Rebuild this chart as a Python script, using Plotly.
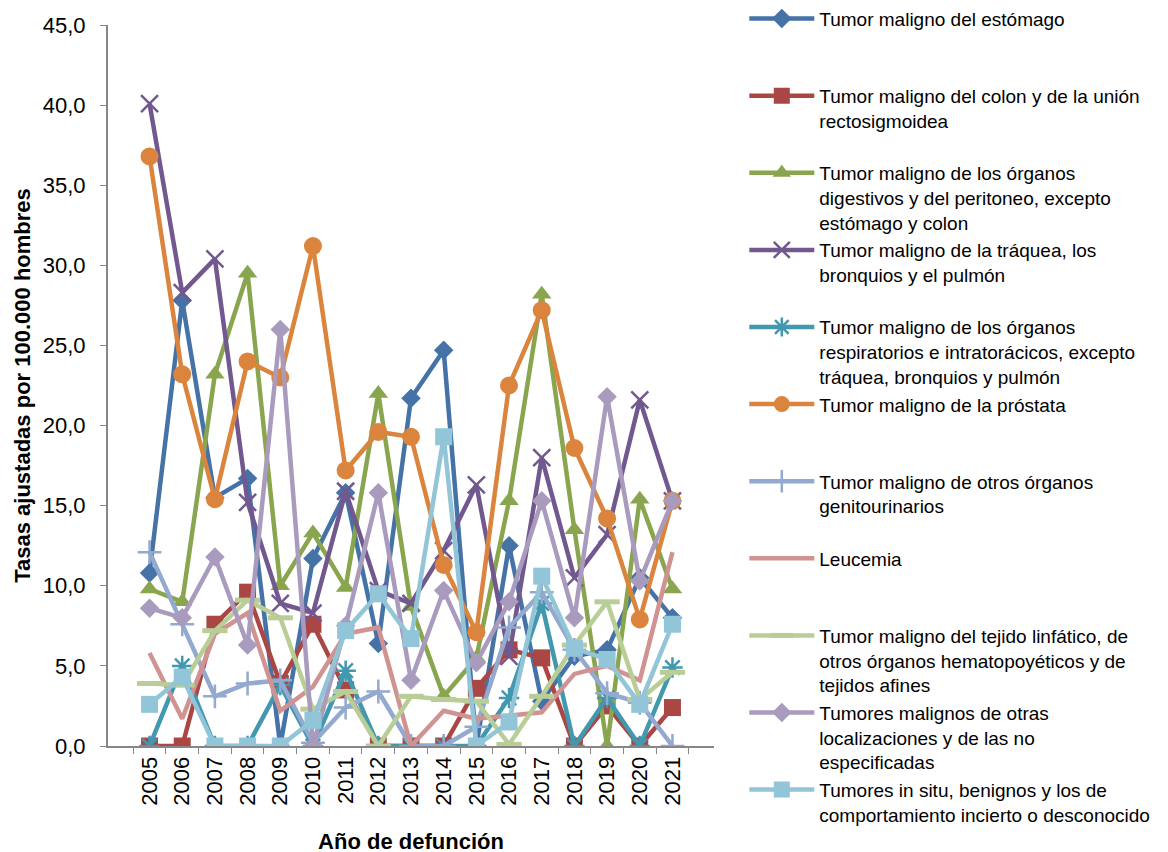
import plotly.graph_objects as go

years = [str(y) for y in range(2005, 2022)]

estomago = [10.8, 27.8, 15.5, 16.7, 0.0, 11.7, 15.8, 6.4, 21.7, 24.7, 0.0, 12.5, 2.8, 5.6, 6.0, 10.5, 8.0]
colon = [0.0, 0.0, 7.6, 9.6, 3.9, 7.6, 3.5, 0.0, 0.0, 0.0, 3.6, 6.0, 5.5, 0.0, 2.5, 0.0, 2.4]
digestivos = [9.8, 9.0, 23.2, 29.5, 10.0, 13.3, 9.9, 22.0, 8.7, 3.1, 5.5, 15.3, 28.2, 13.5, 0.0, 15.4, 9.8]
traquea = [40.1, 28.3, 30.4, 15.2, 8.9, 8.3, 15.9, 9.7, 8.9, 12.2, 16.3, 5.6, 18.0, 10.5, 13.2, 21.6, 15.3]
respiratorios = [0.0, 5.0, 0.0, 0.0, 3.8, 0.0, 4.7, 0.0, 0.0, 0.0, 0.0, 3.0, 8.9, 0.0, 3.0, 0.0, 4.9]
prostata = [36.8, 23.2, 15.4, 24.0, 23.0, 31.2, 17.2, 19.6, 19.3, 11.3, 7.1, 22.5, 27.2, 18.6, 14.2, 7.9, 15.3]
genitourinarios = [12.1, 7.6, 3.1, 3.9, 4.1, 0.2, 2.4, 3.4, 0.0, 0.0, 1.2, 7.4, 9.6, 6.0, 3.3, 2.7, 0.0]
leucemia = [5.8, 1.7, 7.0, 8.3, 2.2, 3.7, 7.0, 7.4, 0.0, 2.2, 1.7, 1.9, 2.1, 4.5, 5.0, 4.1, 12.1]
linfatico = [3.9, 3.8, 7.2, 9.1, 8.0, 2.3, 3.4, 0.0, 3.1, 2.9, 2.8, 0.1, 3.1, 6.3, 9.0, 2.9, 4.6]
otras = [8.6, 8.0, 11.8, 6.3, 26.0, 0.0, 7.5, 15.8, 4.1, 9.7, 5.2, 9.0, 15.3, 8.0, 21.8, 10.3, 15.3]
in_situ = [2.6, 4.3, 0.0, 0.0, 0.0, 1.6, 7.2, 9.5, 6.7, 19.3, 0.0, 1.5, 10.6, 6.1, 5.4, 2.6, 7.6]

series = [
    ("Tumor maligno del estómago", estomago, "#4572A7", "diamond", 15),
    ("Tumor maligno del colon y de la unión<br>rectosigmoidea", colon, "#AA4643", "square", 17),
    ("Tumor maligno de los órganos<br>digestivos y del peritoneo, excepto<br>estómago y colon", digestivos, "#89A54E", "triangle-up", 17),
    ("Tumor maligno de la tráquea, los<br>bronquios y el pulmón", traquea, "#71588F", "x-thin", 17),
    ("Tumor maligno de los órganos<br>respiratorios e intratorácicos, excepto<br>tráquea, bronquios y pulmón", respiratorios, "#4198AF", "asterisk", 17),
    ("Tumor maligno de la próstata", prostata, "#DB843D", "circle", 18),
    ("Tumor maligno de otros órganos<br>genitourinarios", genitourinarios, "#93A9CF", "cross-thin", 17),
    ("Leucemia", leucemia, "#D19392", None, 0),
    ("Tumor maligno del tejido linfático, de<br>otros órganos hematopoyéticos y de<br>tejidos afines", linfatico, "#B9CD96", "line-ew", 18),
    ("Tumores malignos de otras<br>localizaciones y de las no<br>especificadas", otras, "#A99BBD", "diamond", 15),
    ("Tumores in situ, benignos y los de<br>comportamiento incierto o desconocido", in_situ, "#92C5D8", "square", 17),
]

fig = go.Figure()
n = len(series)
for i, (name, vals, color, sym, size) in enumerate(series):
    lines = name.count("<br>") + 1
    label = name
    if i < n - 1:
        label = name + "<br> " * (3 - lines)
    if sym is None:
        mode = "lines"
        marker = dict()
    else:
        mode = "lines+markers"
        thin = sym in ("x-thin", "asterisk", "cross-thin", "line-ew")
        marker = dict(symbol=sym, size=size, color=color,
                      line=dict(color=color, width=(5 if sym == "line-ew" else 2.5) if thin else 0))
    fig.add_trace(go.Scatter(
        x=years, y=vals, name=label, mode=mode,
        line=dict(color=color, width=4.5),
        marker=marker, legendgroup=f"g{i}",
    ))

fig.update_layout(
    width=1168, height=852,
    margin=dict(l=100, r=462, t=17, b=114, autoexpand=False),
    paper_bgcolor="white", plot_bgcolor="white",
    separators=",.",
    font=dict(family="Liberation Sans, Arial, sans-serif", size=20, color="black"),
    legend=dict(
        x=1.05, y=1.035, xanchor="left", yanchor="top",
        font=dict(family="Liberation Sans, Arial, sans-serif", size=19, color="black"),
        traceorder="grouped", tracegroupgap=0, valign="top",
        itemwidth=65, bgcolor="rgba(0,0,0,0)", maxheight=852,
    ),
    xaxis=dict(
        type="category", tickangle=-90, showline=True, linecolor="#868686", linewidth=2,
        ticks="outside", ticklen=6, tickcolor="#868686", tickson="boundaries",
        showgrid=False, tickfont=dict(size=22),
        title=dict(text="<b>Año de defunción</b>", standoff=29,
                   font=dict(family="Liberation Sans Narrow, Arial Narrow, sans-serif", size=22)),
    ),
    yaxis=dict(
        range=[0, 45], tick0=0, dtick=5, tickformat=".1f", showline=True,
        linecolor="#868686", linewidth=2, ticks="outside", ticklen=6, tickcolor="#868686",
        showgrid=False, zeroline=False, tickfont=dict(size=22), ticklabelstandoff=10,
        title=dict(text="<b>Tasas ajustadas por 100.000 hombres</b>", standoff=6,
                   font=dict(family="Liberation Sans Narrow, Arial Narrow, sans-serif", size=22)),
    ),
)

fig.write_html("out.html")
